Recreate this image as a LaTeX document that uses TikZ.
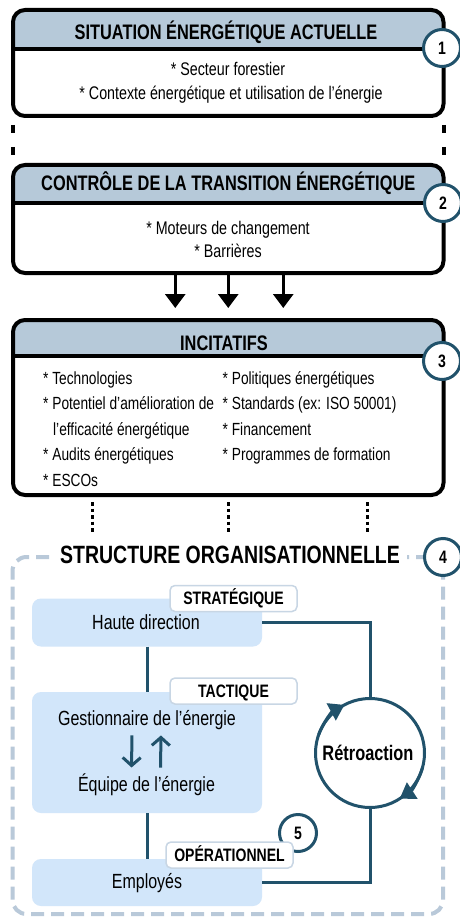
\documentclass[tikz,border=0pt]{standalone}
\usepackage{fontspec}
\setmainfont{Liberation Sans}[FakeStretch=0.78]
\usetikzlibrary{arrows.meta}
\definecolor{hdrblue}{RGB}{182,201,217}
\definecolor{darkteal}{RGB}{33,82,107}
\definecolor{paleblue}{RGB}{210,230,250}
\definecolor{dashblue}{RGB}{185,201,217}
\definecolor{lblline}{RGB}{200,214,228}
\begin{document}
\begin{tikzpicture}[x=1pt,y=-1pt,
  mainbox/.style n args={2}{draw=black, line width=4pt, rounded corners=12pt, fill=white,
    inner sep=0pt, outer sep=0pt, minimum width=430.5pt, minimum height=#1,
    path picture={\fill[hdrblue, sharp corners] (path picture bounding box.north west) rectangle ([yshift=-#2]path picture bounding box.north east);
      \draw[black, line width=4pt, sharp corners] ([yshift=-#2]path picture bounding box.north west) -- ([yshift=-#2]path picture bounding box.north east);}},
  title/.style={font=\bfseries\fontsize{21}{21}\selectfont, anchor=base, inner sep=0pt},
  item/.style={font=\fontsize{18.3}{18}\selectfont, anchor=base, inner sep=0pt},
  itemw/.style={font=\fontsize{17.6}{18}\selectfont, inner sep=0pt, anchor=base west},
  numc/.style={circle, draw=darkteal, line width=3pt, fill=white, minimum size=37pt, inner sep=0pt,
    font=\bfseries\fontsize{18}{18}\selectfont},
  vdash/.style={line width=4pt, dash pattern=on 8pt off 14pt, shorten <=9pt},
  bigarrow/.style={line width=3pt, -{Triangle[length=14pt,width=20pt]}, shorten <=2pt, shorten >=12pt},
  dotline/.style={line width=3.5pt, dash pattern=on 3.5pt off 3pt, shorten <=7pt},
  lvl/.style={fill=paleblue, rounded corners=9pt, minimum width=230pt, inner sep=0pt},
  lbl/.style={draw=lblline, line width=1.5pt, fill=white, rounded corners=5pt, minimum width=127pt,
    minimum height=26pt, inner sep=0pt, text height=12.5pt, text depth=0pt,
    font=\bfseries\fontsize{18}{18}\selectfont},
  orgtext/.style={font=\fontsize{20.5}{20}\selectfont, anchor=base, inner sep=0pt},
  fb/.style={draw=darkteal, line width=3pt},
  fbarrow/.style={fb, -{Triangle[length=15pt,width=19pt]}},
  smallarrow/.style={fb, -{Straight Barb[length=8pt,width=18pt]}, shorten <=6pt, shorten >=6pt}
]
\useasboundingbox (0,0) rectangle (460,920);
\fill[white] (0,0) rectangle (460,920);

% ---- box 1
\node[mainbox={106pt}{39pt}] (b1) at (228.25,63) {};
\node[title] (t1) at (226,40) {SITUATION ÉNERGÉTIQUE ACTUELLE};
\node[item] (i11) at (228,76) {* Secteur forestier};
\node[item] (i12) at (231,100) {* Contexte énergétique et utilisation de l’énergie};

% ---- box 2
\node[mainbox={108pt}{38pt}] (b2) at (228.25,219) {};
\node[title] (t2) at (228.25,190.7) {CONTRÔLE DE LA TRANSITION ÉNERGÉTIQUE};
\node[item] (i21) at (228,234) {* Moteurs de changement};
\node[item] (i22) at (228,257) {* Barrières};

\draw[vdash] (b1.south west) -- (b2.north west);
\draw[vdash] (b1.south east) -- (b2.north east);

% ---- box 3
\node[mainbox={175pt}{36pt}] (b3) at (228.25,407.5) {};
\node[title] (t3) at (224,350) {INCITATIFS};
\node[itemw] (l31) at (43,384) {* Technologies};
\node[itemw] (l32) at (43,409.5) {* Potentiel d’amélioration de};
\node[itemw] (l33) at (53,435) {l’efficacité énergétique};
\node[itemw] (l34) at (43,460.5) {* Audits énergétiques};
\node[itemw] (l35) at (43,486) {* ESCOs};
\node[itemw] (r31) at (222.5,384) {* Politiques énergétiques};
\node[itemw] (r32) at (222.5,409.5) {* Standards (ex: ISO 50001)};
\node[itemw] (r33) at (222.5,435) {* Financement};
\node[itemw] (r34) at (222.5,460.5) {* Programmes de formation};

\draw[bigarrow] ([xshift=-53pt]b2.south) -- ([xshift=-53pt]b3.north);
\draw[bigarrow] (b2.south) -- (b3.north);
\draw[bigarrow] ([xshift=55pt]b2.south) -- ([xshift=55pt]b3.north);

\node[numc] (n1) at (442,48) {1};
\node[numc] (n2) at (443,203) {2};
\node[numc] (n3) at (442,361) {3};

% ---- organisational structure
\coordinate (dend) at (228.25,534);
\draw[dotline] ([xshift=-136pt]b3.south) -- ([xshift=-136pt]dend);
\draw[dotline] (b3.south) -- (dend);
\draw[dotline] ([xshift=139pt]b3.south) -- ([xshift=139pt]dend);

\node[draw=dashblue, line width=4pt, dash pattern=on 13pt off 7pt, rounded corners=14pt,
  minimum width=430.5pt, minimum height=357pt, inner sep=0pt] (org) at (227.75,735.5) {};
\node[font=\bfseries\fontsize{25}{25}\selectfont, fill=white, inner xsep=7pt, inner ysep=2pt, anchor=base] (orgt) at (230,563) {STRUCTURE ORGANISATIONNELLE};
\node[numc] (n4) at (443,557) {4};

\node[lvl, minimum height=48pt] (hd) at (147,622.5) {};
\node[lvl, minimum height=121pt] (ge) at (147,752.5) {};
\node[lvl, minimum height=47pt] (em) at (147,882.5) {};
\node[orgtext] (hdt) at (146,629) {Haute direction};
\node[orgtext] (get) at (147,725) {Gestionnaire de l’énergie};
\node[orgtext] (eqt) at (146.5,791.5) {Équipe de l’énergie};
\node[orgtext] (emt) at (147,888) {Employés};

\draw[fb] (hd.south) -- (ge.north);
\draw[fb] (ge.south) -- (em.north);
\draw[smallarrow] ([xshift=-15pt]get.south) -- ([xshift=-15pt]eqt.north);
\draw[smallarrow] ([xshift=14pt]eqt.north) -- ([xshift=14pt]get.south);

\node[circle, draw=darkteal, line width=3pt, minimum size=109pt, inner sep=0pt] (fbc) at (370,753) {};
\node[font=\bfseries\fontsize{21}{21}\selectfont, anchor=base, inner sep=0pt] (fbt) at (368,760) {Rétroaction};
\draw[fb] (hd.east) -- (hd.east -| fbc.north) -- (fbc.north);
\draw[fb] (em.east) -- (em.east -| fbc.south) -- (fbc.south);
\draw[fbarrow] (fbc.center) ++(200:54.5) arc (200:242:54.5);
\draw[fbarrow] (fbc.center) ++(15:54.5) arc (15:57:54.5);

\node[numc] (n5) at (298,833) {5};
\node[lbl] (lb1) at (233.5,598.5) {STRATÉGIQUE};
\node[lbl] (lb2) at (233.5,691) {TACTIQUE};
\node[lbl] (lb3) at (229.5,855) {OPÉRATIONNEL};
\end{tikzpicture}
\end{document}
